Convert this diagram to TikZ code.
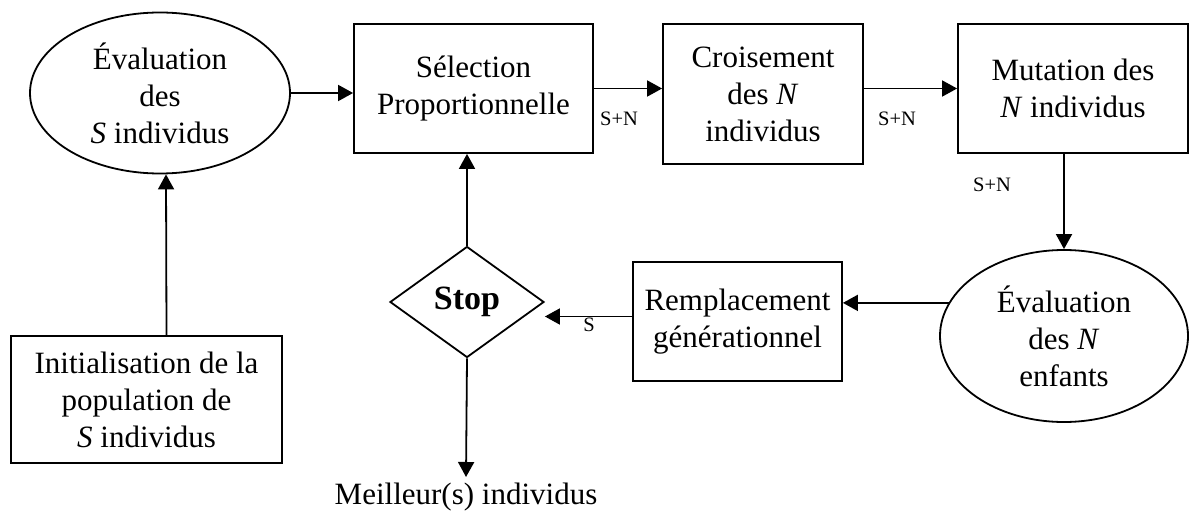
\documentclass[tikz,border=0pt]{standalone}
\usepackage{fontspec}
\setmainfont{Liberation Serif}
\usetikzlibrary{shapes.geometric,arrows.meta}
\begin{document}
\begin{tikzpicture}[x=1pt,y=-1pt,
  txt/.style={align=center,font=\fontsize{31}{37}\selectfont},
  box/.style={txt,draw,line width=1.8pt,inner sep=0pt},
  ell/.style={txt,ellipse,draw,line width=1.8pt,inner sep=0pt},
  arr/.style={line width=1.8pt,-{Triangle[length=15pt,width=16pt]}},
  lbl/.style={font=\fontsize{20.5}{24}\selectfont,inner sep=0pt}]
\useasboundingbox (0,0) rectangle (1191,516);
\node[ell,minimum width=260pt,minimum height=161pt] (e1) at (160,93) {Évaluation\\des\\\textit{S} individus};
\node[box,minimum width=239pt,minimum height=129pt] (sel) at (473.5,88.5) {Sélection\\Proportionnelle};
\node[box,minimum width=200pt,minimum height=140pt] (cro) at (763,94) {Croisement\\des \textit{N}\\individus};
\node[box,minimum width=230pt,minimum height=129pt] (mut) at (1073,88.5) {Mutation des\\\textit{N} individus};
\node[ell,minimum width=248pt,minimum height=172pt] (e2) at (1064,336) {Évaluation\\des \textit{N}\\enfants};
\node[box,minimum width=209pt,minimum height=119pt] (rem) at (737.5,321.5) {Remplacement\\générationnel};
\node[diamond,draw,line width=1.8pt,inner sep=0pt,aspect=1.39,minimum width=154pt,minimum height=111pt,font=\fontsize{34}{40}\selectfont\bfseries] (stop) at (467,302) {Stop};
\node[box,minimum width=271pt,minimum height=127pt] (init) at (146.5,399.5) {Initialisation de la\\population de\\\textit{S} individus};
\node[txt,anchor=north,inner sep=0pt] (best) at (466,483) {Meilleur(s) individus};
\node[lbl] (l1) at (619,119) {S+N};
\node[lbl] (l2) at (897,119) {S+N};
\node[lbl] (l3) at (992,185) {S+N};
\node[lbl] (l4) at (589,325) {S};
\coordinate (remout) at ([yshift=5pt]rem.west);
\draw[arr] (e1.east) -- (sel.west |- e1.east);
\draw[arr] (sel.east) -- (sel.east -| cro.west);
\draw[arr] (cro.east |- mut.west) -- (mut.west);
\draw[arr] (e2.north |- mut.south) -- (e2.north);
\draw[arr] (e2.164) -- (rem.east |- e2.164);
\draw[arr] (remout) -- (stop.east |- remout);
\draw[arr] (stop.north) -- (stop.north |- sel.south);
\draw[arr] (stop.south) -- ([yshift=6pt]best.north);
\draw[arr] ([xshift=20pt]init.north) -- ([xshift=6pt]e1.south);
\end{tikzpicture}
\end{document}
